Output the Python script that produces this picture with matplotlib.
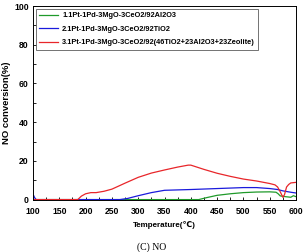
import matplotlib.pyplot as plt

plt.rcParams['font.family'] = ['Liberation Sans', 'DejaVu Sans']

# series (temperature in C, NO conversion in %)
temp_1 = [100, 415, 430, 450, 475, 500, 525, 550, 562, 566, 570, 580, 590, 595, 600]
conv_1 = [0, 0, 1.0, 2.2, 3.0, 3.6, 3.9, 4.0, 3.8, 3.0, 1.9, 1.5, 1.2, 2.0, 1.5]

temp_2 = [100, 101, 103, 106, 265, 280, 300, 325, 350, 400, 450, 500, 525, 550, 565, 575, 590, 600]
conv_2 = [2.0, 2.2, 1.0, 0, 0, 0.6, 2.0, 3.6, 4.8, 5.2, 5.7, 6.2, 6.2, 5.7, 5.2, 4.5, 3.8, 3.4]

temp_3 = [100, 185, 192, 200, 210, 220, 235, 250, 275, 300, 325, 350, 375, 395, 400, 425, 450,
          475, 500, 525, 550, 560, 565, 570, 575, 578, 582, 586, 590, 600]
conv_3 = [0, 0, 1.8, 3.0, 3.6, 3.6, 4.3, 5.4, 8.5, 11.5, 13.7, 15.3, 16.8, 17.8, 17.8, 15.6, 13.6,
          12.0, 10.6, 9.6, 8.3, 7.6, 6.5, 4.0, 1.2, 2.5, 6.5, 7.8, 8.6, 8.9]

labels = ['1.1Pt-1Pd-3MgO-3CeO2/92Al2O3',
          '2.1Pt-1Pd-3MgO-3CeO2/92TiO2',
          '3.1Pt-1Pd-3MgO-3CeO2/92(46TiO2+23Al2O3+23Zeolite)']
colors = ['#1f9a2a', '#1a1adc', '#e8262a']

fig = plt.figure(figsize=(3.03, 2.52), dpi=100)
ax = fig.add_axes([0.109, 0.208, 0.868, 0.768])

for t, c, lab, col in zip([temp_1, temp_2, temp_3], [conv_1, conv_2, conv_3], labels, colors):
    ax.plot(t, c, color=col, lw=0.9, label=lab)

ax.set_xlim(100, 600)
ax.set_ylim(0, 100)
ax.set_xticks(range(100, 601, 50))
ax.set_xticks(range(100, 601, 25), minor=True)
ax.set_yticks(range(0, 101, 20))
ax.set_yticks(range(0, 101, 10), minor=True)
ax.tick_params(which='both', direction='in', labelsize=6.2, width=0.6)
ax.tick_params(axis='x', pad=5)
ax.tick_params(axis='y', pad=3)
ax.tick_params(which='both', length=2.5)
for lab in ax.get_xticklabels() + ax.get_yticklabels():
    lab.set_fontweight('bold')
for sp in ax.spines.values():
    sp.set_linewidth(0.7)

ax.set_xlabel('Temperature(\u2103)', fontsize=5.8, fontweight='bold', labelpad=4)
ax.set_ylabel('NO conversion(%)', fontsize=6.8, fontweight='bold', labelpad=2)

leg = ax.legend(loc='upper left', fontsize=5.3, frameon=True, fancybox=False,
                handlelength=2.6, handletextpad=0.5, borderpad=0.45, labelspacing=0.85,
                borderaxespad=0.4)
leg.get_frame().set_edgecolor('#333333')
leg.get_frame().set_linewidth(0.6)
for txt in leg.get_texts():
    txt.set_fontweight('bold')

fig.text(0.5, 0.0, '(C) NO', fontsize=7, family='Liberation Serif', ha='center', va='bottom')

fig.savefig('out.png', dpi=100)
